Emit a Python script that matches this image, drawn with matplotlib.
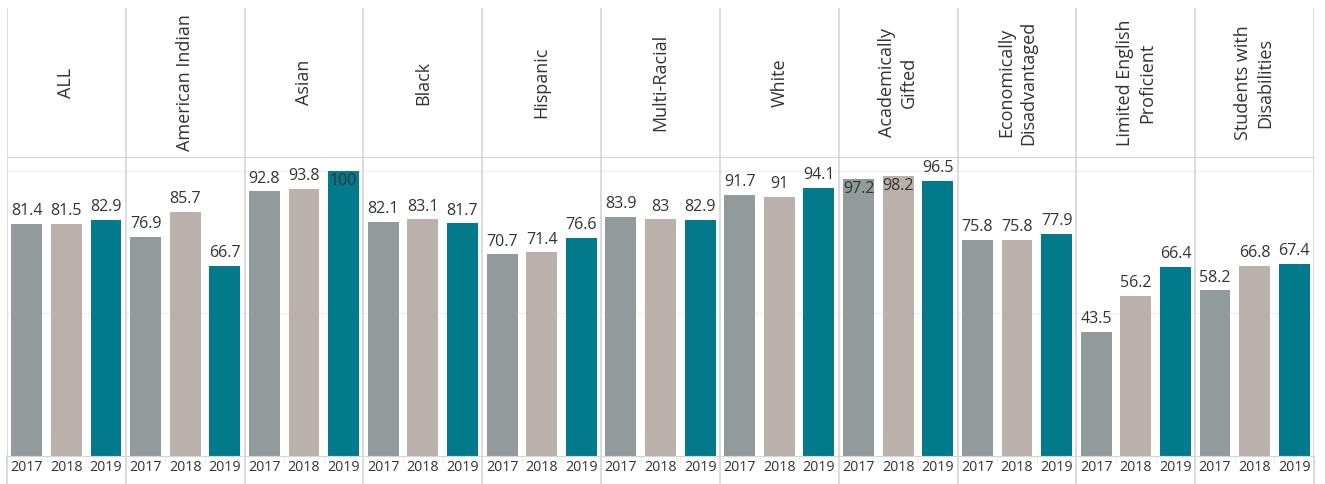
import numpy as np
import matplotlib
matplotlib.use("Agg")
import matplotlib.pyplot as plt

# groups shown as panels, one bar per year in each
groups = ["ALL", "American Indian", "Asian", "Black", "Hispanic", "Multi-Racial",
          "White", "Academically\nGifted", "Economically\nDisadvantaged",
          "Limited English\nProficient", "Students with\nDisabilities"]
years = ["2017", "2018", "2019"]
v2017 = [81.4, 76.9, 92.8, 82.1, 70.7, 83.9, 91.7, 97.2, 75.8, 43.5, 58.2]
v2018 = [81.5, 85.7, 93.8, 83.1, 71.4, 83.0, 91.0, 98.2, 75.8, 56.2, 66.8]
v2019 = [82.9, 66.7, 100.0, 81.7, 76.6, 82.9, 94.1, 96.5, 77.9, 66.4, 67.4]

colors = ["#939a9c", "#bab1ac", "#037a8b"]
txt = "#333333"
line = "#d6d6d6"
plt.rcParams["font.family"] = ["Open Sans", "DejaVu Sans"]

W, H = 1325, 484
fig = plt.figure(figsize=(W / 100, H / 100), dpi=100)

x0, x1 = 7, 1314
y_top, y_mid, y_base = 8, 157, 456
ax = fig.add_axes([x0 / W, 1 - y_base / H, (x1 - x0) / W, (y_base - y_mid) / H])
hx = fig.add_axes([x0 / W, 1 - y_mid / H, (x1 - x0) / W, (y_mid - y_top) / H])

n = len(groups)
ymax = 104.9
vals = [v2017, v2018, v2019]
for k in range(3):
    xs = np.arange(n) * 3 + k + 0.5
    ax.bar(xs, vals[k], width=0.78, color=colors[k], zorder=2)
    for x, v in zip(xs, vals[k]):
        lab = f"{v:g}"
        if v > 97:
            ax.text(x, v - 0.6, lab, ha="center", va="top", fontsize=11.5, color=txt, zorder=3)
        else:
            ax.text(x, v + 1.6, lab, ha="center", va="bottom", fontsize=11.5, color=txt, zorder=3)

ax.set_xlim(0, n * 3)
ax.set_ylim(0, ymax)
ax.set_yticks([])
for y in [50, 100]:
    ax.axhline(y, color="#eeeeee", lw=0.8, zorder=1)
for i in range(n + 1):
    ax.axvline(i * 3, color=line, lw=1.2, zorder=1)
    ax.plot([i * 3, i * 3], [0, -0.095], transform=ax.get_xaxis_transform(),
            color=line, lw=1.2, clip_on=False)

ax.set_xticks(np.arange(n * 3) + 0.5)
ax.set_xticklabels(years * n, fontsize=10.3, color=txt)
ax.set_xticks(np.arange(n * 3 + 1), minor=True)
ax.tick_params(axis="x", which="major", length=0, pad=3)
ax.tick_params(axis="x", which="minor", length=5, color="#e6e6e6")
for s in ["left", "right"]:
    ax.spines[s].set_visible(False)
ax.spines["bottom"].set_color(line)
ax.spines["top"].set_color(line)

hx.set_xlim(0, n)
hx.set_ylim(0, 1)
hx.axis("off")
for i in range(n + 1):
    hx.axvline(i, color=line, lw=1.2)
for i, g in enumerate(groups):
    hx.text(i + 0.5, 0.5, g, rotation=90, ha="center", va="center",
            fontsize=13, color=txt, multialignment="center", linespacing=1.3)

fig.savefig("out.png", dpi=100)
